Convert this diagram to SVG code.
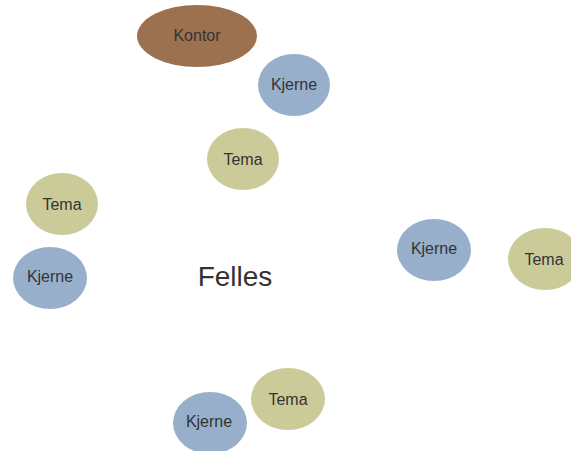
<svg xmlns="http://www.w3.org/2000/svg" width="571" height="451" viewBox="0 0 571 451">
<style>
.k{fill:#97afcb}
.t{fill:#cbcb99}
.o{fill:#9c7150}
text{font-family:"Liberation Sans",Arial,sans-serif;font-size:16px;fill:#333;text-anchor:middle;dominant-baseline:central}
.big{font-size:28px;fill:#333}
</style>
<g id="kontor"><ellipse class="o" cx="197" cy="36" rx="60" ry="31"/><text x="197" y="35">Kontor</text></g>
<g id="kjerne1"><ellipse class="k" cx="294" cy="85" rx="36" ry="31"/><text x="294" y="84">Kjerne</text></g>
<g id="tema1"><ellipse class="t" cx="243" cy="159" rx="36" ry="31"/><text x="243" y="159">Tema</text></g>
<g id="tema2"><ellipse class="t" cx="62" cy="204" rx="36" ry="31"/><text x="62" y="204">Tema</text></g>
<g id="kjerne2"><ellipse class="k" cx="50" cy="278" rx="37" ry="31"/><text x="50" y="276">Kjerne</text></g>
<g id="felles"><text class="big" x="235" y="276">Felles</text></g>
<g id="kjerne3"><ellipse class="k" cx="434" cy="250" rx="37" ry="31"/><text x="434" y="248">Kjerne</text></g>
<g id="tema3"><ellipse class="t" cx="545" cy="259" rx="37" ry="31"/><text x="544" y="259">Tema</text></g>
<g id="tema4"><ellipse class="t" cx="288" cy="399" rx="37" ry="31"/><text x="288" y="399">Tema</text></g>
<g id="kjerne4"><ellipse class="k" cx="210" cy="423" rx="37" ry="31"/><text x="209" y="421">Kjerne</text></g>
<g id="connectors"></g>
</svg>
